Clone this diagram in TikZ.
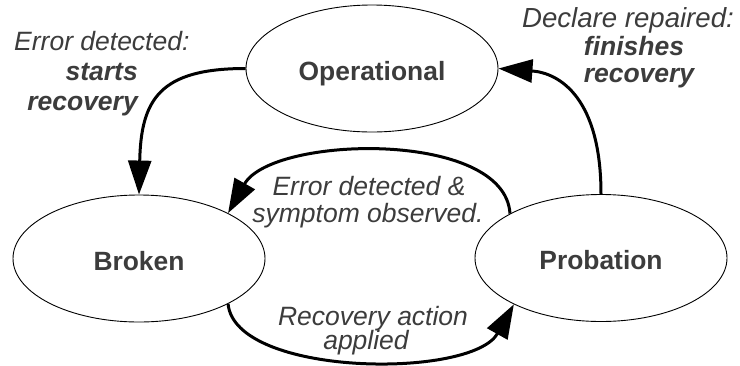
\documentclass[tikz,border=0pt]{standalone}
\usepackage{fontspec}
\setmainfont{Liberation Sans}
\usetikzlibrary{arrows.meta,shapes.geometric}
\definecolor{txt}{RGB}{60,60,60}
\begin{document}
\begin{tikzpicture}[x=1pt,y=-1pt,
  state/.style={ellipse, draw=black, line width=0.9pt, minimum width=252pt,
    minimum height=127pt, inner sep=0pt, text=txt,
    font=\fontsize{26.4}{30}\selectfont\bfseries, text height=23pt, text depth=0pt},
  flow/.style={line width=3pt, -{Triangle[length=34pt,width=23pt]}},
  lbl/.style={inner sep=0pt, text=txt, font=\fontsize{26.5}{30}\selectfont\itshape},
  lblb/.style={inner sep=0pt, text=txt, font=\fontsize{26.5}{30}\selectfont\itshape\bfseries}]
\useasboundingbox (0,0) rectangle (740,365);
\node[state] (op) at (372,68.5) {Operational};
\node[state] (br) at (139,258.5) {Broken};
\node[state] (pr) at (601,258) {Probation};
% connectors
\draw[flow] (op.west) .. controls +(-86,0) and +(2,-95) .. (br.north);
\draw[flow] (pr.north) .. controls +(0,-95) and +(62,4.5) .. (op.east);
\draw[flow] (pr.154) .. controls +(-5,-84) and +(44,-78) .. (br.27);
\draw[flow] (br.-27) .. controls +(7,73) and +(-42,75) .. (pr.208);
% labels
\node[lbl, anchor=base west] (l1a) at (14,50) {Error detected:};
\node[lblb, anchor=base east] (l1b) at (138,80) {starts};
\node[lblb, anchor=base east] (l1c) at (138,110) {recovery};
\node[lbl, anchor=base, font=\fontsize{27.6}{30}\selectfont\itshape] (l2a) at (628,27) {Declare repaired:};
\node[lblb, anchor=base] (l2b) at (634,55) {finishes};
\node[lblb, anchor=base] (l2c) at (639,82) {recovery};
\node[lbl, anchor=base] (l3a) at (369,195) {Error detected \&};
\node[lbl, anchor=base] (l3b) at (368,222) {symptom observed.};
\node[lbl, anchor=base] (l4a) at (373,325) {Recovery action};
\node[lbl, anchor=base] (l4b) at (366,349) {applied};
\end{tikzpicture}
\end{document}
